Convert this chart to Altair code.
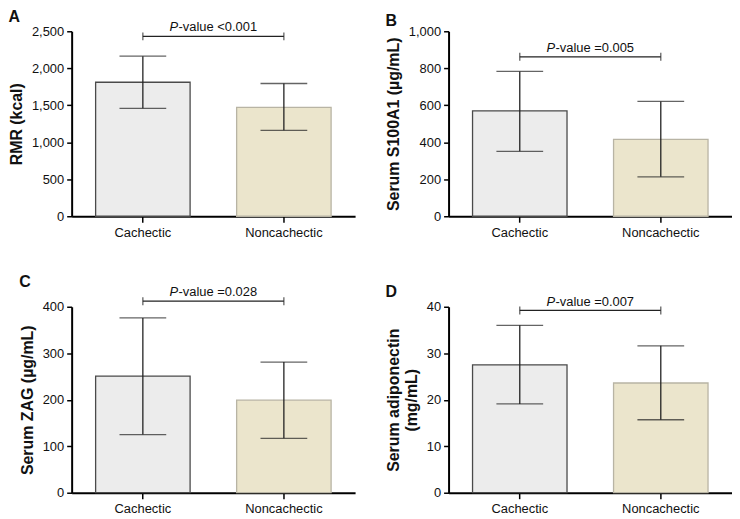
import altair as alt
import pandas as pd

groups = ["Cachectic", "Noncachectic"]

rmr_mean = [1811, 1472]
rmr_lo = [1459, 1161]
rmr_hi = [2164, 1794]

s100_mean = [570, 416]
s100_lo = [351, 213]
s100_hi = [783, 621]

zag_mean = [251, 199]
zag_lo = [125, 117]
zag_hi = [376, 281]

adipo_mean = [27.5, 23.6]
adipo_lo = [19.1, 15.7]
adipo_hi = [36.0, 31.6]

p_texts = ["<0.001", "=0.005", "=0.028", "=0.007"]
bracket_y = [2431, 862, 412, 39.2]
y_max = [2500, 1000, 400, 40]
y_step = [500, 200, 100, 10]
y_titles = ["RMR (kcal)", "Serum S100A1 (µg/mL)", "Serum ZAG (µg/mL)",
            ["Serum adiponectin", "(mg/mL)"]]
letters = ["A", "B", "C", "D"]

FONT = "Liberation Sans"
W = 285
STEP = W / 2.01


def panel(mean, lo, hi, ytitle, ymax, ystep, ptxt, by, letter, H):
    df = pd.DataFrame({"group": groups, "mean": mean, "lo": lo, "hi": hi})
    br = pd.DataFrame({"group": [groups[0]], "g2": [groups[1]], "y": [by],
                       "p": ["P"], "rest": ["-value " + ptxt]})
    ends = pd.DataFrame({"group": groups, "y": [by, by]})

    xs = alt.Scale(domain=groups, paddingInner=0.33, paddingOuter=0.17)
    ys = alt.Scale(domain=[0, ymax], nice=False)
    xax = alt.Axis(title=None, labelAngle=0, labelFontSize=13, labelFont=FONT,
                   labelColor="#111", tickSize=6, labelPadding=4,
                   domainColor="#000", domainWidth=2, tickColor="#000", tickWidth=1.5)
    yax = alt.Axis(title=ytitle, values=list(range(0, ymax + 1, ystep)), format=",d",
                   labelFontSize=13, labelFont=FONT, labelColor="#111",
                   titleFont=FONT, titleFontSize=16, titleFontWeight="bold",
                   titleColor="#111", titlePadding=7, tickSize=5, labelPadding=3,
                   domainColor="#000", domainWidth=2, tickColor="#000", tickWidth=1.5,
                   grid=False)

    X = lambda f: alt.X(f, scale=xs, axis=xax, title=None)
    Y = lambda f: alt.Y(f, scale=ys, axis=yax, title=ytitle)

    base = alt.Chart(df)
    bars = base.mark_bar(strokeWidth=1.3).encode(
        x=X("group:N"),
        y=Y("mean:Q"),
        fill=alt.Color("group:N", scale=alt.Scale(domain=groups, range=["#ececec", "#ebe5cc"]), legend=None),
        stroke=alt.Stroke("group:N", scale=alt.Scale(domain=groups, range=["#4a4a4a", "#b8b4a4"]), legend=None),
    )
    err = base.mark_rule(color="#222", strokeWidth=1.3).encode(
        x=X("group:N"), y=Y("lo:Q"), y2="hi:Q")
    cap_lo = base.mark_tick(color="#222", thickness=1.3, size=47).encode(
        x=X("group:N"), y=Y("lo:Q"))
    cap_hi = base.mark_tick(color="#222", thickness=1.3, size=47).encode(
        x=X("group:N"), y=Y("hi:Q"))
    brk = alt.Chart(br).mark_rule(color="#222", strokeWidth=1.3).encode(
        x=X("group:N"), x2="g2:N", y=Y("y:Q"))
    brk_end = alt.Chart(ends).mark_tick(color="#222", thickness=1.3, size=8, orient="vertical").encode(
        x=X("group:N"), y=Y("y:Q"))
    t_p = alt.Chart(br).mark_text(font=FONT, fontSize=13, fontStyle="italic", color="#111",
                                  align="left", baseline="alphabetic", dx=STEP / 2 - 44, dy=-5).encode(
        x=X("group:N"), y=Y("y:Q"), text="p:N")
    t_r = alt.Chart(br).mark_text(font=FONT, fontSize=13, color="#111",
                                  align="left", baseline="alphabetic", dx=STEP / 2 - 35, dy=-5).encode(
        x=X("group:N"), y=Y("y:Q"), text="rest:N")

    return alt.layer(bars, err, cap_lo, cap_hi, brk, brk_end, t_p, t_r).properties(
        width=W, height=H,
        title=alt.TitleParams(letter, anchor="start", frame="bounds", font=FONT,
                              fontSize=16, fontWeight="bold", color="#111", offset=-4),
    )


panels = [
    panel(rmr_mean, rmr_lo, rmr_hi, y_titles[0], y_max[0], y_step[0], p_texts[0], bracket_y[0], letters[0], 186),
    panel(s100_mean, s100_lo, s100_hi, y_titles[1], y_max[1], y_step[1], p_texts[1], bracket_y[1], letters[1], 186),
    panel(zag_mean, zag_lo, zag_hi, y_titles[2], y_max[2], y_step[2], p_texts[2], bracket_y[2], letters[2], 187),
    panel(adipo_mean, adipo_lo, adipo_hi, y_titles[3], y_max[3], y_step[3], p_texts[3], bracket_y[3], letters[3], 187),
]

chart = alt.concat(*panels, columns=2, spacing=alt.RowColnumber(row=35, column=30)).properties(
    padding=0, background="white"
).configure_view(stroke=None).configure_axis(
    domainColor="#000", domainWidth=2, tickColor="#000", grid=False
)

chart.save("out.html", embed_options={"renderer": "svg", "actions": False})
